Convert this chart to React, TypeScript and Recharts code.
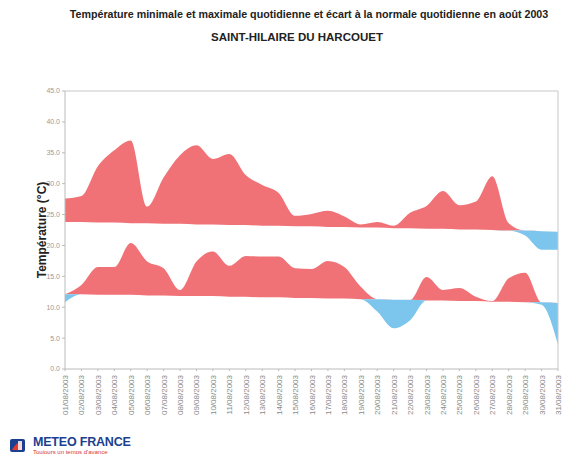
import { Area, AreaChart, ReferenceLine, XAxis, YAxis } from "recharts";

const dates = [
  "01/08/2003", "02/08/2003", "03/08/2003", "04/08/2003", "05/08/2003", "06/08/2003",
  "07/08/2003", "08/08/2003", "09/08/2003", "10/08/2003", "11/08/2003", "12/08/2003",
  "13/08/2003", "14/08/2003", "15/08/2003", "16/08/2003", "17/08/2003", "18/08/2003",
  "19/08/2003", "20/08/2003", "21/08/2003", "22/08/2003", "23/08/2003", "24/08/2003",
  "25/08/2003", "26/08/2003", "27/08/2003", "28/08/2003", "29/08/2003", "30/08/2003",
  "31/08/2003",
];

const tmax = [
  27.6, 28.0, 32.8, 35.4, 37.0, 26.3, 31.0, 34.6, 36.2, 34.0, 34.8, 31.4, 29.8, 28.5, 24.8, 25.1,
  25.6, 24.7, 23.4, 23.8, 23.2, 25.3, 26.4, 28.8, 26.5, 27.1, 31.2, 23.6, 21.6, 19.3, 19.3,
];

const tmin = [
  10.8, 13.6, 16.5, 16.5, 20.4, 17.4, 16.3, 12.8, 17.4, 19.0, 16.7, 18.3, 18.2, 18.2, 16.3, 16.2,
  17.5, 16.5, 13.3, 9.3, 6.6, 7.9, 14.9, 12.8, 13.1, 11.7, 11.0, 14.7, 15.6, 10.4, 4.0,
];

const normMax = [
  23.8, 23.8, 23.7, 23.7, 23.6, 23.6, 23.5, 23.5, 23.4, 23.4, 23.3, 23.3, 23.2, 23.2, 23.1, 23.1,
  23.0, 23.0, 22.9, 22.9, 22.8, 22.8, 22.7, 22.7, 22.6, 22.6, 22.5, 22.4, 22.4, 22.3, 22.2,
];

const normMin = [
  12.1, 12.1, 12.0, 12.0, 12.0, 11.9, 11.9, 11.8, 11.8, 11.8, 11.7, 11.7, 11.6, 11.6, 11.5, 11.5,
  11.4, 11.4, 11.3, 11.3, 11.2, 11.2, 11.1, 11.1, 11.0, 11.0, 10.9, 10.9, 10.8, 10.8, 10.7,
];

const yTicks = [0, 5, 10, 15, 20, 25, 30, 35, 40, 45];

const data = dates.map((d, i) => ({
  date: d,
  maxHot: [normMax[i], Math.max(tmax[i], normMax[i])],
  maxCold: [Math.min(tmax[i], normMax[i]), normMax[i]],
  minHot: [normMin[i], Math.max(tmin[i], normMin[i])],
  minCold: [Math.min(tmin[i], normMin[i]), normMin[i]],
}));

const RED = "#f07277";
const BLUE = "#7cc5ec";
const font = "'Liberation Sans', Arial, sans-serif";

const DateTick = (props: any) => {
  const { x, y, payload } = props;
  return (
    <g transform={`translate(${x},${y})`}>
      <text
        transform="rotate(-90)"
        x={-2}
        y={0}
        dy={3}
        textAnchor="end"
        fontSize={8}
        fill="#8a8a8a"
        fontFamily={font}
      >
        {payload.value}
      </text>
    </g>
  );
};

export default function App() {
  return (
    <div style={{ position: "absolute", left: 0, top: 0, width: 566, height: 454, background: "#fff", fontFamily: font }}>
      <div style={{ position: "absolute", top: 8, left: 0, width: 618, textAlign: "center", fontSize: 10.7, fontWeight: "bold", color: "#222" }}>
        Température minimale et maximale quotidienne et écart à la normale quotidienne en août 2003
      </div>
      <div style={{ position: "absolute", top: 31, left: 0, width: 594, textAlign: "center", fontSize: 11.5, fontWeight: "bold", color: "#222" }}>
        SAINT-HILAIRE DU HARCOUET
      </div>
      <AreaChart width={566} height={454} data={data} margin={{ top: 91, right: 8, bottom: 45, left: 0 }}>
        <XAxis
          dataKey="date"
          interval={0}
          tick={<DateTick />}
          tickSize={2}
          stroke="#bbbbbb"
          height={40}
        />
        <YAxis
          domain={[0, 45]}
          ticks={yTicks}
          width={65}
          tickSize={3}
          stroke="#bbbbbb"
          tick={{ fontSize: 7, fill: "#9a9a9a", fontFamily: font }}
          tickFormatter={(v) => v.toFixed(1)}
          label={{
            value: "Température (°C)",
            angle: -90,
            position: "insideLeft",
            offset: 42,
            style: { fontSize: 12, fill: "#222", fontWeight: "bold", fontFamily: font, textAnchor: "middle" },
          }}
        />
        <ReferenceLine y={45} stroke="#c8c8c8" />
        <ReferenceLine x="31/08/2003" stroke="#c8c8c8" />
        <Area type="monotone" dataKey="maxHot" stroke="none" fill={RED} fillOpacity={1} isAnimationActive={false} />
        <Area type="monotone" dataKey="maxCold" stroke="none" fill={BLUE} fillOpacity={1} isAnimationActive={false} />
        <Area type="monotone" dataKey="minHot" stroke="none" fill={RED} fillOpacity={1} isAnimationActive={false} />
        <Area type="monotone" dataKey="minCold" stroke="none" fill={BLUE} fillOpacity={1} isAnimationActive={false} />
      </AreaChart>
      <div style={{ position: "absolute", left: 10, top: 436, display: "flex", alignItems: "center" }}>
        <svg width={15} height={13}>
          <rect x={0} y={0} width={15} height={13} rx={2} fill="#1d3f8f" />
          <path d="M2 11 Q7 2 12 3 L12 11 Z" fill="#e23a2f" />
          <rect x={8} y={2} width={4} height={9} fill="#ffffff" opacity={0.8} />
        </svg>
        <div style={{ marginLeft: 8, lineHeight: 1 }}>
          <div style={{ fontSize: 12.5, fontWeight: "bold", color: "#1d3f8f", letterSpacing: -0.2 }}>METEO FRANCE</div>
          <div style={{ fontSize: 6, color: "#d83a2f", marginTop: 0 }}>Toujours un temps d'avance</div>
        </div>
      </div>
    </div>
  );
}
